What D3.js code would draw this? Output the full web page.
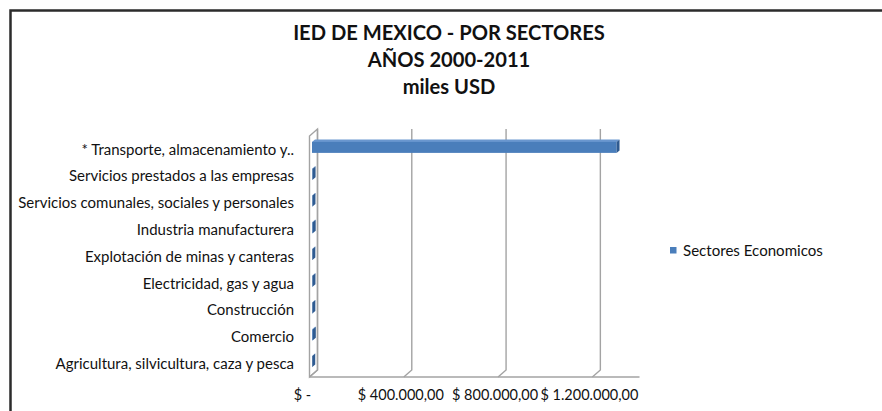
<!DOCTYPE html>
<html><head><meta charset="utf-8">
<script src="https://cdn.jsdelivr.net/npm/d3@7"></script>
<style>html,body{margin:0;padding:0;background:#fff;}svg{display:block;}</style>
</head><body>
<svg id="c" width="882" height="411"></svg>
<script>
const titleLines = ["IED DE MEXICO - POR SECTORES", "AÑOS 2000-2011", "miles USD"];
const categories = [
  "* Transporte, almacenamiento y..",
  "Servicios prestados a las empresas",
  "Servicios comunales, sociales y personales",
  "Industria manufacturera",
  "Explotación de minas y canteras",
  "Electricidad, gas y agua",
  "Construcción",
  "Comercio",
  "Agricultura, silvicultura, caza y pesca"
];
const values = [1292000, 2500, 2000, 3000, 1500, 2000, 1500, 3500, 1000];
const tickValues = [0, 400000, 800000, 1200000];
const seriesName = "Sectores Economicos";
const axisMax = 1400000;

const svg = d3.select("#c");
const FONT = "Lato, 'Open Sans', sans-serif";

// border
svg.append("path").attr("d", "M10.5,411 L10.5,10.5 L882,10.5")
  .attr("fill", "none").attr("stroke", "#2b2b2b").attr("stroke-width", 2.5);

function fit(sel, target) {
  const w = sel.node().getComputedTextLength();
  const fs = parseFloat(sel.attr("font-size"));
  return fs * target / w;
}

// title
const tg = svg.append("g");
const t0 = tg.append("text").text(titleLines[0]).attr("font-family", FONT)
  .attr("font-weight", "bold").attr("font-size", 18);
const tfs = fit(t0, 312);
t0.remove();
tg.selectAll("text").data(titleLines).join("text")
  .attr("x", 449).attr("y", (d, i) => 40 + i * 27)
  .attr("text-anchor", "middle").attr("font-family", FONT)
  .attr("font-weight", "bold").attr("font-size", tfs).attr("fill", "#111")
  .text(d => d);

// scales
const x = d3.scaleLinear().domain([0, axisMax]).range([309.5, 639.5]);
const y = d3.scaleBand().domain(categories).range([136, 377]);
const D = {dx: 8, dy: -7};   // wall depth
const grid = "#a3a3a3";

const walls = svg.append("g").attr("fill", "none").attr("stroke", grid).attr("stroke-width", 1.4);
const yT = y.range()[0], yB = y.range()[1];
// left side wall
walls.append("path").attr("fill", "#fff")
  .attr("d", `M${x(0)},${yB} L${x(0)},${yT} L${x(0)+D.dx},${yT+D.dy} L${x(0)+D.dx},${yB+D.dy} Z`);
// gridlines on back wall + floor diagonals
tickValues.forEach(t => {
  walls.append("path")
    .attr("d", `M${x(t)+D.dx},${yT+D.dy} L${x(t)+D.dx},${yB+D.dy} L${x(t)},${yB}`);
});
// floor front edge
walls.append("line").attr("x1", x(0)).attr("x2", x(axisMax)).attr("y1", yB).attr("y2", yB);

// bars
const BO = {dx: 2.5, dy: -2};   // bar front plane offset
const BD = {dx: 3, dy: -2.5};   // bar depth
const bh = 11;
const bars = svg.append("g");
categories.forEach((c, i) => {
  const v = values[i];
  const x0 = x(0) + BO.dx, x1 = x(v) + BO.dx;
  const yc = y(c) + y.bandwidth() / 2 + BO.dy;
  const y0 = yc - bh / 2, y1 = yc + bh / 2;
  bars.append("path").attr("fill", "#6a97cf")
    .attr("d", `M${x0},${y0} L${x1},${y0} L${x1+BD.dx},${y0+BD.dy} L${x0+BD.dx},${y0+BD.dy} Z`);
  bars.append("rect").attr("x", x0).attr("y", y0).attr("width", Math.max(0, x1 - x0)).attr("height", bh)
    .attr("fill", "#4a7ebb");
  bars.append("path").attr("fill", "#2f5b91")
    .attr("d", `M${x1},${y0} L${x1+BD.dx},${y0+BD.dy} L${x1+BD.dx},${y1+BD.dy} L${x1},${y1} Z`);
});

// category labels
const lg = svg.append("g");
const l0 = lg.append("text").text(categories[2]).attr("font-family", FONT).attr("font-size", 12);
const lfs = fit(l0, 276);
l0.remove();
lg.selectAll("text").data(categories).join("text")
  .attr("x", 294).attr("y", d => y(d) + y.bandwidth() / 2)
  .attr("dy", "0.35em").attr("text-anchor", "end")
  .attr("font-family", FONT).attr("font-size", lfs).attr("fill", "#111")
  .text(d => d);

// tick labels
const loc = d3.formatLocale({decimal: ",", thousands: ".", grouping: [3], currency: ["$ ", ""]});
const fmt = loc.format("$,.2f");
const tickText = v => v === 0 ? "$ -" : fmt(v);
const xg = svg.append("g");
const k0 = xg.append("text").text(tickText(1200000)).attr("font-family", FONT).attr("font-size", 12);
const kfs = fit(k0, 98);
k0.remove();
xg.selectAll("text").data(tickValues).join("text")
  .attr("x", d => x(d) - (d === 0 ? 7 : 3)).attr("y", 399.5)
  .attr("text-anchor", "middle").attr("font-family", FONT).attr("font-size", kfs).attr("fill", "#111")
  .text(tickText);

// legend
const leg = svg.append("g");
leg.append("rect").attr("x", 670).attr("y", 247).attr("width", 6.5).attr("height", 6.5).attr("fill", "#4a7ebb");
const lt = leg.append("text").text(seriesName).attr("font-family", FONT).attr("font-size", 12)
  .attr("x", 683).attr("y", 251).attr("dy", "0.35em").attr("fill", "#111");
lt.attr("font-size", fit(lt, 140));
</script>
</body></html>
